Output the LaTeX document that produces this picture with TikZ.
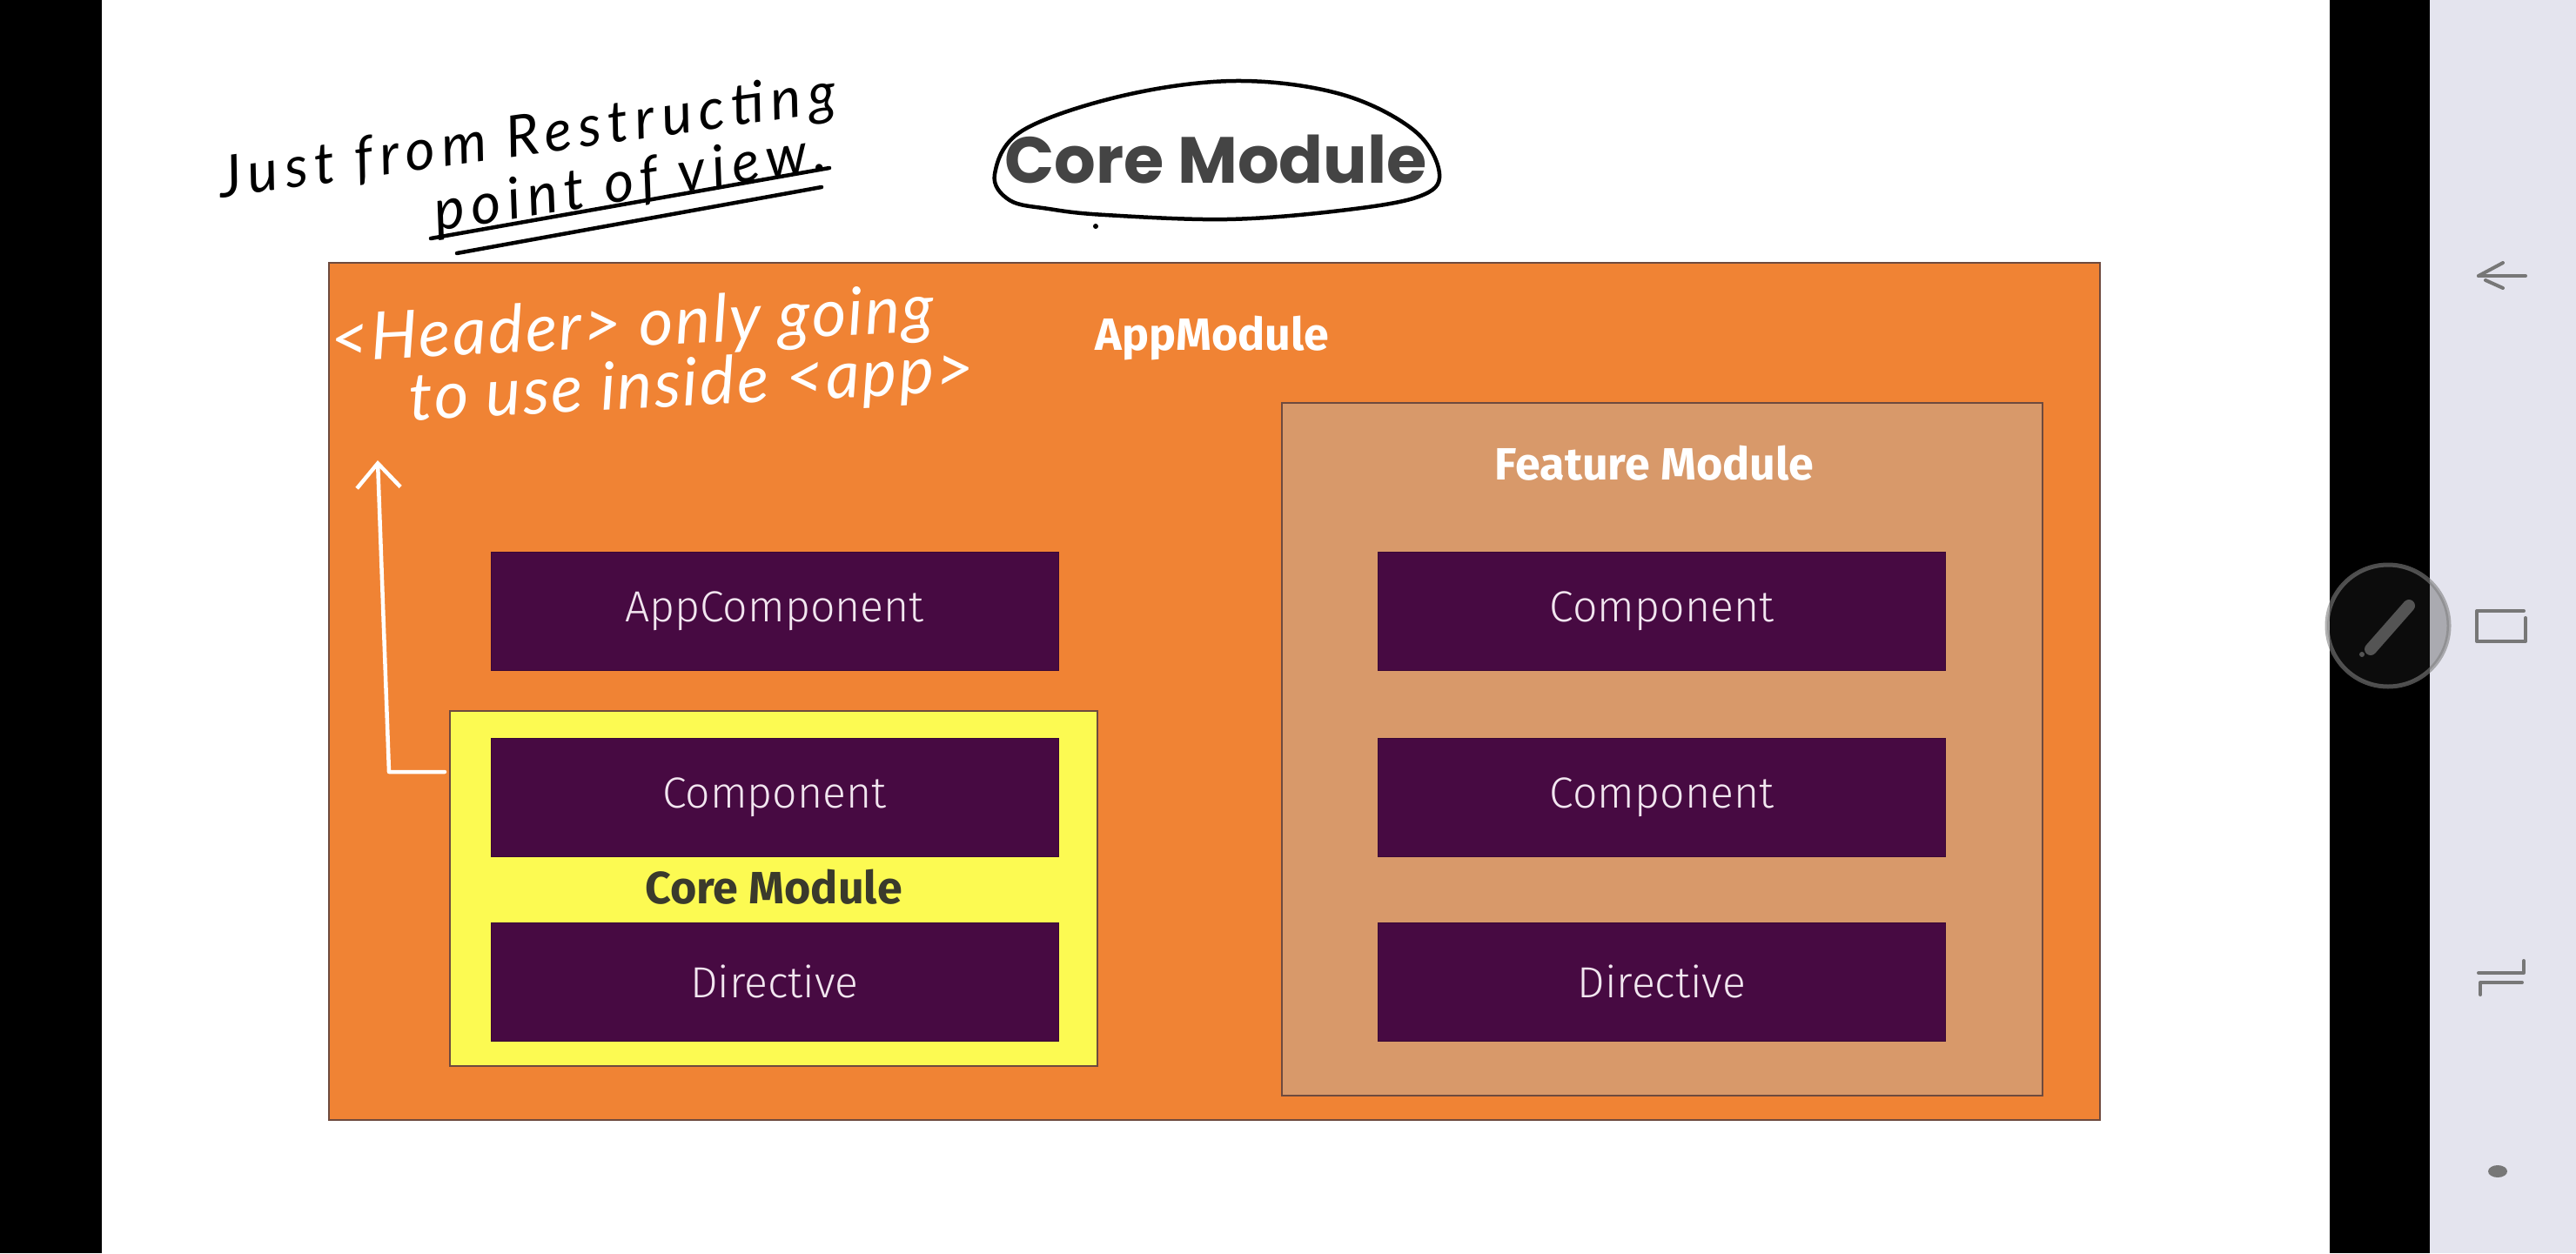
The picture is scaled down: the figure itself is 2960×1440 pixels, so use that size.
\documentclass[tikz,border=0pt]{standalone}
\usepackage{fontspec}
\setsansfont{Fira Sans}
\newfontfamily\boxfont{Fira Sans}[UprightFont={* Light}]
\newfontfamily\titlefont{Poppins}
\newfontfamily\handfont{Lato}[LetterSpace=12]
\newfontfamily\handfontw{Lato}[LetterSpace=3]
\usetikzlibrary{arrows.meta}
\definecolor{appor}{HTML}{F08334}
\definecolor{featc}{HTML}{D8996A}
\definecolor{plum}{HTML}{470A42}
\definecolor{coreyel}{HTML}{FCFA52}
\definecolor{plumtxt}{HTML}{F2E6F0}
\definecolor{panel}{HTML}{E4E4EE}
\definecolor{icon}{HTML}{777777}
\definecolor{edgec}{HTML}{6E4A3E}
\definecolor{titlec}{HTML}{444444}
\definecolor{coretxt}{HTML}{3A3A2C}
\tikzset{
  modbox/.style={draw=edgec, line width=1.5pt, inner sep=0pt, outer sep=0pt},
  purplebox/.style={fill=plum, draw=plum!80!black, line width=1pt, inner sep=0pt, outer sep=0pt,
    minimum width=652, minimum height=136, text=plumtxt,
    font=\boxfont\fontsize{50}{58}\selectfont},
  modlabel/.style={font=\sffamily\bfseries\fontsize{52}{60}\selectfont, inner sep=0pt},
  handblack/.style={font=\handfont\itshape\fontsize{66}{72}\selectfont, text=black, inner sep=0pt},
  handwhite/.style={font=\handfontw\itshape\fontsize{76}{82}\selectfont, text=white, inner sep=0pt},
  inkline/.style={line width=4.5pt, line cap=round, line join=round},
  iconline/.style={draw=icon, line width=4pt, line cap=round, line join=round}
}
\begin{document}
\begin{tikzpicture}[x=1pt,y=-1pt]
\useasboundingbox (0,0) rectangle (2960,1440);
% screen background
\fill[white] (0,0) rectangle (2960,1440);
\fill[black] (0,0) rectangle (117,1440);
\fill[black] (2677,0) rectangle (2792,1440);
\fill[panel] (2792,0) rectangle (2960,1440);

% modules
\node[modbox, fill=appor, minimum width=2035, minimum height=985] (appmod) at (1395.5,794.5) {};
\node[modbox, fill=featc, minimum width=874, minimum height=796] (featmod) at (1910,861) {};
\node[modbox, fill=coreyel, minimum width=744, minimum height=408] (coremod) at (889,1021) {};

\node[modlabel, text=white] (applbl) at (1393,389) {AppModule};
\node[modlabel, text=white] (featlbl) at (1901,532) {Feature Module};
\node[modlabel, text=coretxt] (corelbl) at (889,1019) {Core Module};

% components
\node[purplebox] (appcomp) at (890,702) {AppComponent};
\node[purplebox] (corecomp) at (890,916) {Component};
\node[purplebox] (coredir) at (890,1128) {Directive};
\node[purplebox] (featcomp1) at (1909.5,702) {Component};
\node[purplebox] (featcomp2) at (1909.5,916) {Component};
\node[purplebox] (featdir) at (1909.5,1128) {Directive};

% title
\node[font=\titlefont\bfseries\fontsize{75}{84}\selectfont, text=titlec, inner sep=0pt] (title) at (1397,183) {Core Module};
\draw[inkline] plot[smooth cycle, tension=0.6] coordinates {
  (1143,200) (1175,150) (1290,110) (1420,93) (1540,108) (1625,150) (1654,200)
  (1630,226) (1540,242) (1410,252) (1270,247) (1205,240) (1160,230)};
\fill[black] (1259,260) circle (3);

% black handwriting
\node[handblack, rotate=8] (hw1) at (606,160) {Just from Restructing};
\node[handblack, rotate=9] (hw2) at (724,212) {point of view.};
\draw[inkline] (495,274) -- (953,193);
\draw[inkline] (525,291) -- (944,215);

% white handwriting
\node[handwhite, rotate=3] (hw3) at (727,377) {<Header> only going};
\node[handwhite, rotate=3] (hw4) at (795,445) {to use inside <app>};

% white arrow
\coordinate (aS) at (511,887);
\coordinate (aC) at (447,887);
\coordinate (aT) at (434,529);
\draw[white, inkline, -{Straight Barb[length=28pt,width=50pt,line width=4.5pt]}] (aS) -- (aC) -- (aT);

% right panel icons
\draw[iconline] (2848,317) -- (2902,317);
\draw[iconline] (2848,317) -- (2876,302);
\draw[iconline] (2856,322) -- (2876,331);
\draw[iconline] (2900,702) -- (2846,702) -- (2846,737) -- (2902,737) -- (2902,710);
\draw[iconline] (2900,1104) -- (2900,1118) -- (2848,1118);
\draw[iconline] (2898,1129) -- (2850,1129) -- (2850,1143);
\fill[icon] (2870,1346) ellipse (11 and 7);

% pen button
\fill[black!84, opacity=0.31] (2744,719) circle (70);
\draw[gray, line width=5pt, opacity=0.6] (2744,719) circle (70);
\draw[black!67, line width=14pt, line cap=round] (2724,746) -- (2768,696);
\fill[black!67] (2714,752) circle (3);
\end{tikzpicture}
\end{document}
